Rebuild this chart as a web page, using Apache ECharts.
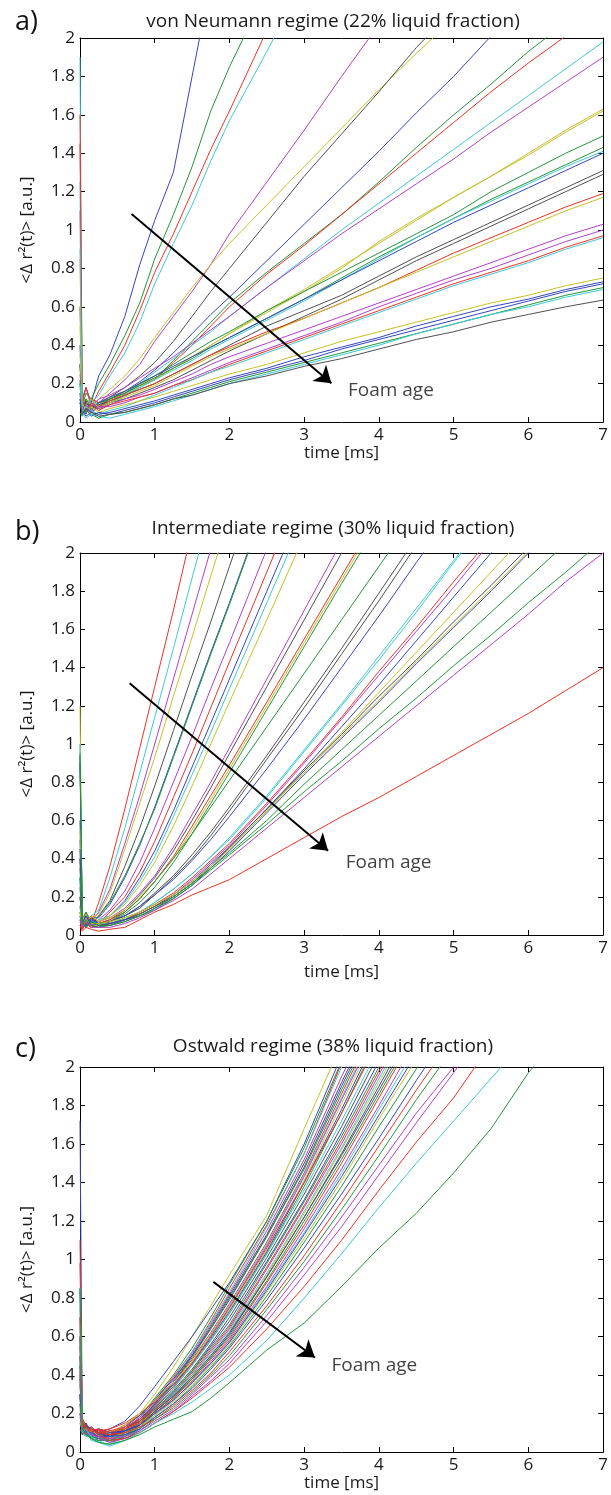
<!DOCTYPE html>
<html><head><meta charset="utf-8">
<script src="https://cdn.jsdelivr.net/npm/echarts@6/dist/echarts.min.js"></script>
<style>html,body{margin:0;padding:0;background:#fff}#c{width:611px;height:1495px}</style>
</head><body><div id="c"></div>
<script>
// shared time grid [ms]
const tGrid = [0, 0.03, 0.08, 0.15, 0.25, 0.4, 0.6, 0.8, 1, 1.25, 1.5, 1.75, 2, 2.5, 3, 3.5, 4, 4.5, 5, 5.5, 6, 6.5, 7];
const xTicks = [0, 1, 2, 3, 4, 5, 6, 7];
const yTicks = [0, 0.2, 0.4, 0.6, 0.8, 1, 1.2, 1.4, 1.6, 1.8, 2];

// ---- panel a: von Neumann regime ----
const a01 = [0.6, 0.12, 0.18, 0.1, 0.24, 0.35, 0.55, 0.82, 1.05, 1.3, 1.8, 2.3];
const a02 = [0.2, 0.08, 0.15, 0.12, 0.2, 0.3, 0.45, 0.62, 0.85, 1.08, 1.33, 1.62, 1.85, 2.25];
const a03 = [1.45, 0.1, 0.18, 0.08, 0.16, 0.26, 0.4, 0.58, 0.78, 0.98, 1.2, 1.42, 1.62, 2.04];
const a04 = [1.9, 0.06, 0.12, 0.1, 0.14, 0.24, 0.36, 0.52, 0.72, 0.93, 1.13, 1.36, 1.57, 1.93, 2.3];
const a05 = [1.1, 0.05, 0.1, 0.06, 0.1, 0.15, 0.22, 0.3, 0.42, 0.55, 0.68, 0.82, 0.98, 1.25, 1.52, 1.8, 2.07];
const a06 = [0.85, 0.04, 0.12, 0.08, 0.12, 0.17, 0.24, 0.33, 0.44, 0.57, 0.7, 0.82, 0.93, 1.13, 1.33, 1.53, 1.73, 1.92, 2.1];
const a07 = [0.3, 0.1, 0.06, 0.12, 0.1, 0.13, 0.18, 0.24, 0.31, 0.42, 0.55, 0.68, 0.8, 1.04, 1.28, 1.5, 1.72, 1.95, 2.15];
const a08 = [0.15, 0.08, 0.04, 0.1, 0.08, 0.12, 0.16, 0.21, 0.27, 0.36, 0.46, 0.56, 0.65, 0.84, 1.03, 1.22, 1.41, 1.61, 1.8, 2.01];
const a09 = [0.12, 0.06, 0.1, 0.05, 0.08, 0.1, 0.14, 0.18, 0.22, 0.32, 0.42, 0.52, 0.62, 0.78, 0.93, 1.08, 1.25, 1.43, 1.6, 1.76, 1.93, 2.08];
const a10 = [0.25, 0.14, 0.08, 0.12, 0.1, 0.12, 0.15, 0.19, 0.22, 0.31, 0.4, 0.5, 0.6, 0.77, 0.92, 1.08, 1.24, 1.4, 1.56, 1.72, 1.87, 2.01];
const a11 = [1.25, 0.05, 0.08, 0.1, 0.06, 0.1, 0.13, 0.2, 0.26, 0.33, 0.4, 0.47, 0.55, 0.7, 0.85, 1.0, 1.14, 1.28, 1.42, 1.56, 1.7, 1.84, 1.98];
const a12 = [0.2, 0.1, 0.05, 0.08, 0.12, 0.14, 0.18, 0.23, 0.28, 0.34, 0.41, 0.48, 0.55, 0.7, 0.84, 0.98, 1.11, 1.24, 1.37, 1.51, 1.64, 1.77, 1.9];
const a13 = [0.5, 0.08, 0.12, 0.06, 0.1, 0.13, 0.16, 0.2, 0.23, 0.28, 0.34, 0.4, 0.46, 0.58, 0.69, 0.81, 0.93, 1.05, 1.17, 1.28, 1.4, 1.52, 1.63];
const a14 = [0.18, 0.12, 0.06, 0.1, 0.08, 0.11, 0.15, 0.19, 0.22, 0.28, 0.34, 0.4, 0.46, 0.57, 0.68, 0.8, 0.94, 1.06, 1.17, 1.28, 1.39, 1.51, 1.62];
const a15 = [0.1, 0.05, 0.1, 0.07, 0.09, 0.12, 0.15, 0.2, 0.24, 0.3, 0.36, 0.42, 0.47, 0.58, 0.68, 0.78, 0.88, 0.98, 1.08, 1.2, 1.3, 1.4, 1.49];
const a16 = [0.3, 0.06, 0.12, 0.08, 0.1, 0.12, 0.15, 0.19, 0.23, 0.28, 0.33, 0.39, 0.44, 0.54, 0.64, 0.75, 0.86, 0.96, 1.06, 1.16, 1.25, 1.34, 1.43];
const a17 = [0.12, 0.09, 0.05, 0.12, 0.08, 0.1, 0.14, 0.18, 0.22, 0.27, 0.32, 0.38, 0.43, 0.53, 0.63, 0.74, 0.85, 0.96, 1.06, 1.15, 1.24, 1.33, 1.41];
const a18 = [0.4, 0.07, 0.11, 0.06, 0.1, 0.13, 0.16, 0.2, 0.24, 0.29, 0.34, 0.39, 0.44, 0.54, 0.64, 0.74, 0.84, 0.94, 1.04, 1.13, 1.22, 1.31, 1.4];
const a19 = [0.15, 0.1, 0.07, 0.05, 0.09, 0.11, 0.14, 0.17, 0.2, 0.25, 0.3, 0.35, 0.4, 0.5, 0.58, 0.66, 0.76, 0.86, 0.95, 1.04, 1.13, 1.22, 1.31];
const a20 = [0.22, 0.06, 0.1, 0.08, 0.07, 0.1, 0.12, 0.15, 0.18, 0.22, 0.27, 0.32, 0.37, 0.46, 0.55, 0.64, 0.74, 0.84, 0.93, 1.02, 1.11, 1.2, 1.29];
const a21 = [1.6, 0.12, 0.06, 0.1, 0.08, 0.11, 0.14, 0.17, 0.2, 0.25, 0.3, 0.35, 0.39, 0.47, 0.54, 0.62, 0.7, 0.79, 0.88, 0.96, 1.04, 1.12, 1.19];
const a22 = [0.6, 0.05, 0.09, 0.12, 0.07, 0.1, 0.13, 0.16, 0.19, 0.24, 0.29, 0.34, 0.38, 0.46, 0.54, 0.62, 0.7, 0.78, 0.86, 0.94, 1.02, 1.1, 1.17];
const a23 = [0.1, 0.08, 0.05, 0.1, 0.07, 0.09, 0.12, 0.14, 0.17, 0.21, 0.25, 0.3, 0.34, 0.41, 0.48, 0.55, 0.62, 0.69, 0.76, 0.83, 0.9, 0.97, 1.03];
const a24 = [0.14, 0.06, 0.09, 0.05, 0.08, 0.08, 0.1, 0.13, 0.15, 0.19, 0.23, 0.27, 0.31, 0.38, 0.45, 0.52, 0.6, 0.67, 0.74, 0.8, 0.87, 0.94, 1.0];
const a25 = [0.3, 0.1, 0.07, 0.09, 0.06, 0.09, 0.11, 0.13, 0.15, 0.19, 0.22, 0.26, 0.3, 0.37, 0.44, 0.51, 0.58, 0.65, 0.72, 0.78, 0.84, 0.91, 0.97];
const a26 = [0.2, 0.04, 0.08, 0.06, 0.04, 0.06, 0.08, 0.11, 0.14, 0.18, 0.22, 0.26, 0.29, 0.36, 0.43, 0.5, 0.57, 0.64, 0.71, 0.77, 0.83, 0.9, 0.96];
const a27 = [0.35, 0.1, 0.06, 0.08, 0.05, 0.07, 0.09, 0.11, 0.13, 0.16, 0.19, 0.22, 0.25, 0.3, 0.36, 0.42, 0.47, 0.52, 0.57, 0.62, 0.66, 0.71, 0.75];
const a28 = [0.08, 0.06, 0.03, 0.05, 0.04, 0.05, 0.07, 0.09, 0.11, 0.14, 0.17, 0.2, 0.23, 0.28, 0.34, 0.39, 0.44, 0.5, 0.55, 0.6, 0.64, 0.69, 0.73];
const a29 = [0.12, 0.04, 0.07, 0.03, 0.05, 0.04, 0.06, 0.08, 0.1, 0.13, 0.16, 0.19, 0.22, 0.27, 0.32, 0.38, 0.43, 0.48, 0.53, 0.58, 0.63, 0.68, 0.72];
const a30 = [0.05, 0.03, 0.06, 0.04, 0.02, 0.04, 0.05, 0.07, 0.09, 0.12, 0.15, 0.18, 0.21, 0.26, 0.31, 0.36, 0.41, 0.46, 0.51, 0.56, 0.61, 0.66, 0.7];
const a31 = [0.9, 0.05, 0.02, 0.04, 0.03, 0.02, 0.04, 0.06, 0.08, 0.11, 0.14, 0.17, 0.2, 0.25, 0.3, 0.35, 0.4, 0.46, 0.51, 0.56, 0.6, 0.65, 0.69];
const a32 = [0.1, 0.04, 0.07, 0.05, 0.03, 0.04, 0.05, 0.07, 0.09, 0.12, 0.14, 0.17, 0.2, 0.24, 0.29, 0.33, 0.38, 0.43, 0.47, 0.52, 0.56, 0.6, 0.635];
const aColors = 'bgrcmykbgrcmyyggcbkkrymmrcybbgck';

// ---- panel b: intermediate regime ----
const b01 = [0.4, 0.08, 0.12, 0.06, 0.17, 0.36, 0.66, 0.98, 1.3, 1.7, 2.12];
const b02 = [0.25, 0.1, 0.06, 0.1, 0.13, 0.3, 0.56, 0.85, 1.14, 1.5, 1.87, 2.23];
const b03 = [0.15, 0.05, 0.1, 0.07, 0.12, 0.24, 0.48, 0.73, 1.0, 1.34, 1.68, 2.02];
const b04 = [1.0, 0.08, 0.12, 0.08, 0.11, 0.22, 0.45, 0.69, 0.93, 1.25, 1.56, 1.88, 2.19];
const b05 = [0.12, 0.06, 0.1, 0.05, 0.1, 0.18, 0.36, 0.56, 0.78, 1.07, 1.36, 1.64, 1.93, 2.5];
const b06 = [0.2, 0.1, 0.05, 0.09, 0.09, 0.16, 0.3, 0.47, 0.67, 0.94, 1.21, 1.48, 1.74, 2.28];
const b07 = [0.94, 0.07, 0.12, 0.06, 0.1, 0.17, 0.31, 0.48, 0.66, 0.93, 1.2, 1.47, 1.73, 2.27];
const b08 = [0.3, 0.05, 0.09, 0.06, 0.08, 0.13, 0.23, 0.38, 0.56, 0.8, 1.04, 1.29, 1.53, 2.02];
const b09 = [0.08, 0.04, 0.07, 0.1, 0.06, 0.12, 0.2, 0.33, 0.49, 0.72, 0.95, 1.19, 1.43, 1.9, 2.38];
const b10 = [0.5, 0.08, 0.04, 0.08, 0.07, 0.1, 0.18, 0.3, 0.44, 0.65, 0.88, 1.11, 1.34, 1.8, 2.26];
const b11 = [0.15, 0.06, 0.1, 0.05, 0.08, 0.1, 0.17, 0.28, 0.41, 0.62, 0.84, 1.06, 1.29, 1.74, 2.19];
const b12 = [1.2, 0.1, 0.06, 0.1, 0.07, 0.1, 0.16, 0.26, 0.38, 0.57, 0.78, 1.0, 1.22, 1.65, 2.09];
const b13 = [0.1, 0.05, 0.08, 0.06, 0.07, 0.09, 0.14, 0.22, 0.31, 0.46, 0.63, 0.8, 0.98, 1.34, 1.7, 2.06];
const b14 = [0.35, 0.08, 0.05, 0.09, 0.06, 0.08, 0.13, 0.21, 0.3, 0.44, 0.6, 0.77, 0.95, 1.3, 1.65, 2.0, 2.35];
const b15 = [0.05, 0.03, 0.06, 0.04, 0.06, 0.08, 0.12, 0.19, 0.28, 0.41, 0.57, 0.73, 0.89, 1.22, 1.55, 1.88, 2.21];
const b16 = [0.2, 0.06, 0.1, 0.05, 0.07, 0.09, 0.13, 0.2, 0.28, 0.4, 0.55, 0.71, 0.87, 1.2, 1.53, 1.86, 2.19];
const b17 = [0.93, 0.07, 0.04, 0.08, 0.05, 0.07, 0.11, 0.17, 0.25, 0.38, 0.53, 0.69, 0.85, 1.18, 1.51, 1.84, 2.16];
const b18 = [0.12, 0.05, 0.08, 0.06, 0.06, 0.07, 0.12, 0.19, 0.28, 0.4, 0.53, 0.67, 0.81, 1.09, 1.37, 1.65, 1.93, 2.21];
const b19 = [0.4, 0.08, 0.05, 0.07, 0.06, 0.07, 0.1, 0.15, 0.22, 0.31, 0.42, 0.54, 0.67, 0.94, 1.22, 1.5, 1.79, 2.08];
const b20 = [0.1, 0.04, 0.07, 0.05, 0.05, 0.07, 0.1, 0.14, 0.21, 0.3, 0.4, 0.52, 0.65, 0.92, 1.19, 1.47, 1.75, 2.04];
const b21 = [0.6, 0.06, 0.1, 0.05, 0.06, 0.07, 0.1, 0.15, 0.21, 0.29, 0.39, 0.5, 0.62, 0.87, 1.13, 1.4, 1.67, 1.95, 2.22];
const b22 = [1.0, 0.1, 0.05, 0.08, 0.05, 0.06, 0.09, 0.12, 0.17, 0.24, 0.32, 0.41, 0.51, 0.73, 0.97, 1.21, 1.46, 1.71, 1.96, 2.2];
const b23 = [0.3, 0.07, 0.04, 0.07, 0.06, 0.06, 0.09, 0.12, 0.17, 0.24, 0.32, 0.41, 0.5, 0.72, 0.96, 1.2, 1.44, 1.69, 1.95, 2.19];
const b24 = [0.07, 0.03, 0.06, 0.04, 0.05, 0.06, 0.08, 0.12, 0.16, 0.22, 0.3, 0.39, 0.48, 0.69, 0.91, 1.14, 1.38, 1.61, 1.85, 2.08];
const b25 = [0.25, 0.06, 0.1, 0.06, 0.04, 0.06, 0.08, 0.11, 0.15, 0.21, 0.29, 0.38, 0.47, 0.68, 0.9, 1.13, 1.36, 1.59, 1.82, 2.06];
const b26 = [0.9, 0.08, 0.05, 0.08, 0.06, 0.05, 0.08, 0.11, 0.15, 0.21, 0.28, 0.37, 0.46, 0.66, 0.87, 1.09, 1.31, 1.54, 1.77, 2.0, 2.23];
const b27 = [0.55, 0.05, 0.09, 0.05, 0.05, 0.06, 0.08, 0.11, 0.15, 0.2, 0.27, 0.36, 0.45, 0.65, 0.86, 1.06, 1.27, 1.48, 1.69, 1.9, 2.11];
const b28 = [0.2, 0.07, 0.04, 0.07, 0.05, 0.06, 0.08, 0.11, 0.15, 0.2, 0.27, 0.36, 0.46, 0.66, 0.86, 1.05, 1.25, 1.44, 1.64, 1.83, 2.03];
const b29 = [0.12, 0.05, 0.08, 0.06, 0.06, 0.07, 0.09, 0.12, 0.16, 0.21, 0.28, 0.36, 0.45, 0.65, 0.85, 1.04, 1.23, 1.43, 1.62, 1.81, 2.01];
const b30 = [0.45, 0.06, 0.1, 0.05, 0.04, 0.06, 0.08, 0.1, 0.14, 0.19, 0.26, 0.35, 0.44, 0.64, 0.84, 1.03, 1.22, 1.42, 1.61, 1.8, 2.0, 2.2];
const b31 = [0.95, 0.07, 0.04, 0.07, 0.05, 0.05, 0.07, 0.1, 0.14, 0.2, 0.27, 0.35, 0.43, 0.6, 0.79, 0.97, 1.15, 1.33, 1.51, 1.69, 1.87, 2.05];
const b32 = [0.3, 0.05, 0.08, 0.05, 0.04, 0.05, 0.07, 0.1, 0.13, 0.19, 0.26, 0.34, 0.42, 0.58, 0.75, 0.91, 1.08, 1.24, 1.41, 1.57, 1.74, 1.9, 2.07];
const b33 = [0.08, 0.04, 0.07, 0.04, 0.04, 0.04, 0.06, 0.09, 0.13, 0.18, 0.24, 0.32, 0.4, 0.56, 0.72, 0.88, 1.04, 1.2, 1.36, 1.52, 1.68, 1.85, 2.0];
const b34 = [0.05, 0.02, 0.04, 0.03, 0.02, 0.03, 0.04, 0.08, 0.12, 0.16, 0.21, 0.25, 0.29, 0.4, 0.51, 0.62, 0.72, 0.83, 0.94, 1.05, 1.16, 1.28, 1.4];
const bColors = 'rcmykbgmrbcymkryggkkbccrmbykybggmr';

// ---- panel c: Ostwald regime ----
const c01 = [0.3, 0.14, 0.12, 0.1, 0.09, 0.1, 0.13, 0.2, 0.3, 0.44, 0.6, 0.76, 0.92, 1.23, 1.68, 2.12];
const c02 = [1.72, 0.16, 0.11, 0.13, 0.1, 0.12, 0.16, 0.24, 0.34, 0.47, 0.6, 0.74, 0.88, 1.2, 1.6, 2.06];
const c03 = [0.85, 0.12, 0.15, 0.09, 0.11, 0.08, 0.12, 0.18, 0.28, 0.4, 0.54, 0.7, 0.87, 1.2, 1.58, 2.03];
const c04 = [0.98, 0.18, 0.13, 0.11, 0.12, 0.1, 0.14, 0.19, 0.27, 0.39, 0.52, 0.68, 0.85, 1.18, 1.55, 2.02];
const c05 = [0.4, 0.1, 0.14, 0.08, 0.06, 0.09, 0.11, 0.17, 0.27, 0.38, 0.52, 0.67, 0.83, 1.17, 1.55, 2.0, 2.4];
const c06 = [0.2, 0.13, 0.09, 0.12, 0.08, 0.07, 0.12, 0.18, 0.26, 0.37, 0.51, 0.66, 0.82, 1.15, 1.52, 1.95, 2.35];
const c07 = [0.15, 0.11, 0.14, 0.1, 0.09, 0.11, 0.1, 0.16, 0.25, 0.36, 0.5, 0.65, 0.81, 1.13, 1.5, 1.92, 2.32];
const c08 = [0.6, 0.15, 0.1, 0.12, 0.1, 0.09, 0.13, 0.19, 0.27, 0.38, 0.5, 0.64, 0.79, 1.12, 1.48, 1.9, 2.3];
const c09 = [0.3, 0.12, 0.1, 0.08, 0.1, 0.07, 0.11, 0.17, 0.25, 0.36, 0.49, 0.64, 0.8, 1.12, 1.47, 1.88, 2.28];
const c10 = [0.5, 0.17, 0.14, 0.12, 0.11, 0.12, 0.15, 0.2, 0.26, 0.36, 0.48, 0.62, 0.77, 1.09, 1.45, 1.86, 2.26];
const c11 = [0.5, 0.09, 0.12, 0.06, 0.05, 0.08, 0.1, 0.15, 0.24, 0.35, 0.47, 0.61, 0.76, 1.08, 1.44, 1.84, 2.24];
const c12 = [0.25, 0.1, 0.13, 0.1, 0.07, 0.09, 0.12, 0.16, 0.24, 0.34, 0.46, 0.6, 0.75, 1.07, 1.43, 1.83, 2.22];
const c13 = [0.35, 0.14, 0.1, 0.11, 0.09, 0.1, 0.14, 0.2, 0.27, 0.36, 0.47, 0.6, 0.74, 1.05, 1.41, 1.81, 2.2];
const c14 = [0.45, 0.12, 0.15, 0.1, 0.12, 0.1, 0.12, 0.17, 0.25, 0.35, 0.46, 0.59, 0.73, 1.04, 1.4, 1.78, 2.18];
const c15 = [0.6, 0.1, 0.08, 0.09, 0.07, 0.06, 0.1, 0.15, 0.23, 0.33, 0.45, 0.58, 0.72, 1.03, 1.38, 1.76, 2.16];
const c16 = [0.7, 0.16, 0.12, 0.13, 0.1, 0.11, 0.13, 0.17, 0.24, 0.34, 0.46, 0.6, 0.75, 1.06, 1.4, 1.76, 2.14];
const c17 = [0.55, 0.11, 0.09, 0.07, 0.05, 0.04, 0.08, 0.14, 0.23, 0.33, 0.45, 0.58, 0.72, 1.03, 1.36, 1.72, 2.1];
const c18 = [0.18, 0.13, 0.11, 0.09, 0.1, 0.08, 0.12, 0.16, 0.23, 0.32, 0.43, 0.56, 0.7, 1.01, 1.34, 1.69, 2.07];
const c19 = [0.3, 0.1, 0.13, 0.12, 0.08, 0.09, 0.11, 0.15, 0.22, 0.31, 0.42, 0.55, 0.68, 0.99, 1.31, 1.66, 2.03];
const c20 = [0.2, 0.14, 0.1, 0.08, 0.09, 0.07, 0.1, 0.15, 0.22, 0.31, 0.42, 0.54, 0.66, 0.98, 1.3, 1.64, 2.0, 2.35];
const c21 = [1.1, 0.15, 0.12, 0.1, 0.11, 0.09, 0.12, 0.16, 0.22, 0.3, 0.41, 0.53, 0.65, 0.96, 1.28, 1.62, 1.98, 2.33];
const c22 = [0.4, 0.12, 0.09, 0.11, 0.07, 0.08, 0.09, 0.14, 0.21, 0.3, 0.4, 0.52, 0.64, 0.95, 1.27, 1.6, 1.96, 2.31];
const c23 = [0.75, 0.1, 0.12, 0.07, 0.08, 0.06, 0.08, 0.13, 0.21, 0.3, 0.4, 0.51, 0.63, 0.93, 1.25, 1.58, 1.94, 2.29];
const c24 = [0.22, 0.11, 0.13, 0.1, 0.09, 0.1, 0.12, 0.15, 0.21, 0.29, 0.39, 0.5, 0.62, 0.92, 1.24, 1.57, 1.92, 2.27];
const c25 = [0.5, 0.13, 0.1, 0.12, 0.1, 0.08, 0.11, 0.14, 0.21, 0.29, 0.38, 0.49, 0.61, 0.91, 1.22, 1.55, 1.9, 2.25];
const c26 = [0.12, 0.09, 0.12, 0.08, 0.07, 0.09, 0.1, 0.14, 0.21, 0.29, 0.39, 0.5, 0.62, 0.91, 1.22, 1.54, 1.88, 2.22];
const c27 = [0.35, 0.12, 0.09, 0.1, 0.08, 0.06, 0.09, 0.13, 0.2, 0.28, 0.38, 0.49, 0.6, 0.89, 1.2, 1.52, 1.86, 2.2];
const c28 = [0.6, 0.16, 0.13, 0.11, 0.12, 0.1, 0.12, 0.15, 0.2, 0.28, 0.37, 0.48, 0.59, 0.88, 1.18, 1.5, 1.84, 2.18];
const c29 = [0.28, 0.1, 0.12, 0.09, 0.06, 0.07, 0.08, 0.12, 0.19, 0.27, 0.36, 0.47, 0.58, 0.86, 1.16, 1.47, 1.8, 2.14];
const c30 = [0.65, 0.12, 0.08, 0.1, 0.05, 0.03, 0.06, 0.12, 0.19, 0.27, 0.36, 0.46, 0.57, 0.85, 1.14, 1.45, 1.78, 2.1];
const c31 = [0.38, 0.14, 0.11, 0.1, 0.09, 0.1, 0.11, 0.14, 0.2, 0.27, 0.36, 0.46, 0.57, 0.84, 1.13, 1.43, 1.75, 2.07];
const c32 = [0.16, 0.11, 0.09, 0.12, 0.08, 0.07, 0.1, 0.13, 0.19, 0.26, 0.35, 0.45, 0.56, 0.83, 1.11, 1.41, 1.73, 2.04];
const c33 = [0.45, 0.1, 0.13, 0.08, 0.07, 0.05, 0.08, 0.12, 0.18, 0.25, 0.34, 0.44, 0.55, 0.81, 1.09, 1.38, 1.69, 1.99, 2.3];
const c34 = [0.3, 0.12, 0.09, 0.1, 0.08, 0.08, 0.09, 0.12, 0.18, 0.25, 0.33, 0.43, 0.54, 0.79, 1.06, 1.34, 1.63, 1.93, 2.22];
const c35 = [0.55, 0.15, 0.12, 0.11, 0.1, 0.09, 0.1, 0.13, 0.17, 0.24, 0.32, 0.41, 0.52, 0.76, 1.02, 1.3, 1.59, 1.88, 2.16];
const c36 = [0.25, 0.1, 0.12, 0.07, 0.06, 0.06, 0.07, 0.11, 0.17, 0.23, 0.31, 0.4, 0.5, 0.74, 0.99, 1.26, 1.54, 1.83, 2.1];
const c37 = [0.42, 0.13, 0.1, 0.09, 0.08, 0.07, 0.08, 0.11, 0.16, 0.22, 0.3, 0.39, 0.48, 0.71, 0.96, 1.22, 1.49, 1.76, 2.0, 2.28];
const c38 = [0.2, 0.11, 0.09, 0.1, 0.07, 0.05, 0.07, 0.1, 0.15, 0.21, 0.29, 0.37, 0.46, 0.68, 0.92, 1.17, 1.44, 1.71, 1.97, 2.24];
const c39 = [0.7, 0.14, 0.11, 0.12, 0.09, 0.06, 0.07, 0.1, 0.15, 0.21, 0.28, 0.36, 0.44, 0.64, 0.86, 1.1, 1.36, 1.61, 1.84, 2.12];
const c40 = [0.85, 0.1, 0.12, 0.08, 0.05, 0.04, 0.06, 0.1, 0.15, 0.2, 0.26, 0.33, 0.4, 0.58, 0.8, 1.03, 1.27, 1.5, 1.72, 1.94, 2.16];
const c41 = [0.85, 0.12, 0.09, 0.07, 0.05, 0.04, 0.06, 0.09, 0.13, 0.17, 0.21, 0.28, 0.36, 0.53, 0.67, 0.86, 1.06, 1.24, 1.45, 1.68, 1.97, 2.2];
const cColors = 'ybgrcmkbgrcmybgrckbgrmcybkgrmcbygbrgmmrcg';

// annotation arrows [[tStart, vStart], [tTip, vTip]] and label anchors
const arrowA = [[0.69, 1.083], [3.364, 0.202]];
const arrowB = [[0.664, 1.318], [3.32, 0.441]];
const arrowC = [[1.784, 0.884], [3.143, 0.491]];
const labelA = [3.586, 0.161];
const labelB = [3.555, 0.377];
const labelC = [3.364, 0.451];

const titles = ['von Neumann regime (22% liquid fraction)', 'Intermediate regime (30% liquid fraction)', 'Ostwald regime (38% liquid fraction)'];
const tags = ['a)', 'b)', 'c)'];

const COL = {b:'#3546bd', g:'#22953a', r:'#ec3226', c:'#3fc9d1', m:'#b23fca', y:'#c5c128', k:'#505050'};
const FONT = '"Open Sans", "DejaVu Sans", sans-serif';

const panels = [
  {lines:[a01,a02,a03,a04,a05,a06,a07,a08,a09,a10,a11,a12,a13,a14,a15,a16,a17,a18,a19,a20,a21,a22,a23,a24,a25,a26,a27,a28,a29,a30,a31,a32], colors:aColors, arrow:arrowA, label:labelA,
   grid:{left:80, top:38, width:527, height:384}, xGap:22, titleY:22, tagY:22},
  {lines:[b01,b02,b03,b04,b05,b06,b07,b08,b09,b10,b11,b12,b13,b14,b15,b16,b17,b18,b19,b20,b21,b22,b23,b24,b25,b26,b27,b28,b29,b30,b31,b32,b33,b34], colors:bColors, arrow:arrowB, label:labelB,
   grid:{left:80, top:553, width:527, height:382}, xGap:29, titleY:529, tagY:532},
  {lines:[c01,c02,c03,c04,c05,c06,c07,c08,c09,c10,c11,c12,c13,c14,c15,c16,c17,c18,c19,c20,c21,c22,c23,c24,c25,c26,c27,c28,c29,c30,c31,c32,c33,c34,c35,c36,c37,c38,c39,c40,c41], colors:cColors, arrow:arrowC, label:labelC,
   grid:{left:80, top:1067, width:527, height:385}, xGap:22, titleY:1047, tagY:1049}
];

const grids = [], xAxes = [], yAxes = [], series = [], graphics = [];
const tickStyle = {inside:true, length:5, lineStyle:{color:'#000', width:1}};
const lineAx = {show:true, onZero:false, lineStyle:{color:'#000', width:1}};

panels.forEach((p, pi) => {
  grids.push(Object.assign({containLabel:false}, p.grid));
  const xb = {type:'value', gridIndex:pi, min:xTicks[0], max:xTicks[xTicks.length-1], interval:1,
    axisLine:lineAx, axisTick:tickStyle, splitLine:{show:false},
    axisLabel:{color:'#1a1a1a', fontSize:17, fontFamily:FONT, margin:5},
    name:'time [ms]', nameLocation:'middle', nameGap:p.xGap,
    nameTextStyle:{color:'#1a1a1a', fontSize:17, fontFamily:FONT}};
  const xt = {type:'value', gridIndex:pi, position:'top', min:xTicks[0], max:xTicks[xTicks.length-1], interval:1,
    axisLine:lineAx, axisTick:tickStyle, splitLine:{show:false}, axisLabel:{show:false}};
  const yl = {type:'value', gridIndex:pi, min:yTicks[0], max:yTicks[yTicks.length-1], interval:0.2,
    axisLine:lineAx, axisTick:tickStyle, splitLine:{show:false},
    axisLabel:{color:'#1a1a1a', fontSize:17, fontFamily:FONT, margin:5},
    name:'<\u0394 r\u00b2(t)> [a.u.]', nameLocation:'middle', nameGap:44,
    nameTextStyle:{color:'#1a1a1a', fontSize:17, fontFamily:FONT}};
  const yr = {type:'value', gridIndex:pi, position:'right', min:yTicks[0], max:yTicks[yTicks.length-1], interval:0.2,
    axisLine:lineAx, axisTick:tickStyle, splitLine:{show:false}, axisLabel:{show:false}};
  xAxes.push(xb, xt); yAxes.push(yl, yr);

  p.lines.forEach((vals, li) => {
    series.push({type:'line', xAxisIndex:pi*2, yAxisIndex:pi*2, symbol:'none', silent:true, clip:true,
      animation:false, lineStyle:{width:1, color:COL[p.colors[li]]},
      data: vals.map((v, i) => [tGrid[i], v])});
  });

  series.push({type:'lines', coordinateSystem:'cartesian2d', xAxisIndex:pi*2, yAxisIndex:pi*2, z:10,
    silent:true, animation:false, symbol:['none','arrow'], symbolSize:[11,16],
    lineStyle:{color:'#000', width:2, opacity:1, curveness:0},
    data:[{coords:p.arrow}]});

  series.push({type:'scatter', xAxisIndex:pi*2, yAxisIndex:pi*2, symbolSize:0, silent:true, animation:false, z:10,
    data:[p.label],
    label:{show:true, position:'right', distance:0, formatter:'Foam age', color:'#111', fontSize:19, fontFamily:FONT}});

  graphics.push({type:'text', x:333, y:p.titleY, silent:true,
    style:{text:titles[pi], font:'19px ' + FONT, fill:'#1a1a1a', textAlign:'center', textVerticalAlign:'middle', align:'center', verticalAlign:'middle'}});
  graphics.push({type:'text', x:15, y:p.tagY, silent:true,
    style:{text:tags[pi], font:'27px ' + FONT, fill:'#111', textAlign:'left', textVerticalAlign:'middle', align:'left', verticalAlign:'middle'}});
});

const chart = echarts.init(document.getElementById('c'), null, {renderer:'canvas'});
chart.setOption({animation:false, backgroundColor:'#fff', grid:grids, xAxis:xAxes, yAxis:yAxes, series:series, graphic:graphics});
</script></body></html>
